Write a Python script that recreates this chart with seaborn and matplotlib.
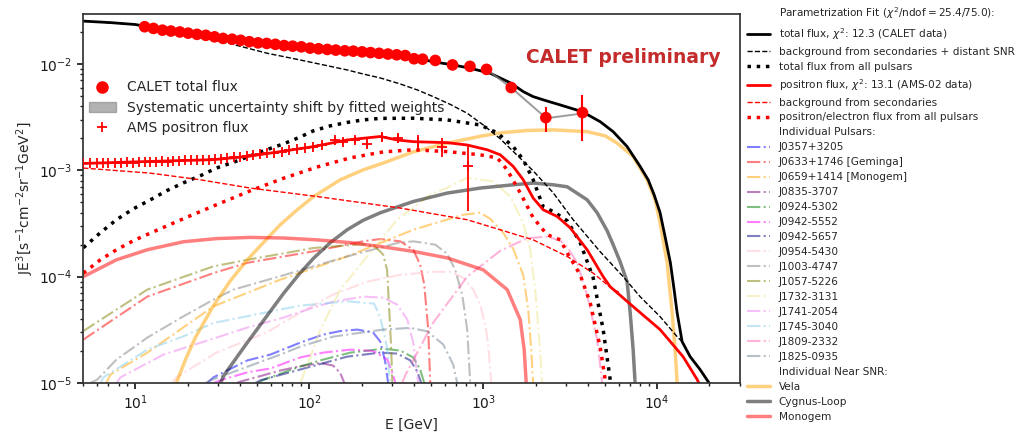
import matplotlib
matplotlib.use("Agg")
import matplotlib.pyplot as plt
from matplotlib.lines import Line2D
from matplotlib.patches import Patch
import seaborn as sns

# ---------------- data ----------------
calet_E = [11.3, 12.7, 14.3, 16.0, 18.0, 20.1, 22.6, 25.4, 28.5, 31.9,
           36.0, 40.3, 45.2, 50.7, 56.9, 63.8, 71.6, 80.2, 90.0, 101,
           113, 127, 142, 160, 179, 201, 225, 252, 283, 318,
           356, 400, 448, 530, 666, 839, 1045, 1449, 2291, 3722]
calet_F = [0.0224, 0.0216, 0.0208, 0.0204, 0.0200, 0.0195, 0.0190, 0.0186, 0.0180, 0.0174,
           0.0171, 0.0167, 0.0162, 0.0158, 0.0156, 0.0153, 0.0149, 0.0147, 0.0145, 0.0141,
           0.0139, 0.0137, 0.0135, 0.0133, 0.0132, 0.0130, 0.0128, 0.0126, 0.0124, 0.0122,
           0.0120, 0.0112, 0.0111, 0.0108, 0.0098, 0.0095, 0.0089, 0.0060, 0.00313, 0.00349]
calet_err = [0.0003, 0.0003, 0.0003, 0.0003, 0.0003, 0.0003, 0.0003, 0.0003, 0.0003, 0.0003,
             0.0003, 0.0003, 0.0003, 0.0003, 0.0003, 0.0003, 0.0003, 0.0003, 0.0003, 0.0003,
             0.0003, 0.0003, 0.0003, 0.0003, 0.0003, 0.0003, 0.0003, 0.0003, 0.0003, 0.0003,
             0.0003, 0.0003, 0.0003, 0.0004, 0.0004, 0.0004, 0.0005, 0.0004, 0.00085, 0.0016]

sys_E = [1045, 1449, 2291, 3722]
sys_lo = [0.0088, 0.0059, 0.00308, 0.00344]
sys_hi = [0.0090, 0.0061, 0.00316, 0.00350]

ams_E = [5.0, 5.5, 6.0, 6.5, 7.0, 7.6, 8.3, 9.0, 9.7, 10.5,
         11.3, 12.2, 13.2, 14.2, 15.3, 16.5, 17.8, 19.2, 20.8, 22.5,
         24.4, 26.4, 28.6, 31.0, 33.7, 36.7, 40.0, 43.7, 47.7, 52.2,
         57.3, 63.0, 69.4, 76.7, 85.0, 94.4, 105, 118, 141, 157,
         184, 215, 263, 325, 423, 581, 820]
ams_F = [1.16e-3, 1.17e-3, 1.16e-3, 1.17e-3, 1.18e-3, 1.17e-3, 1.18e-3, 1.19e-3, 1.18e-3, 1.19e-3,
         1.20e-3, 1.20e-3, 1.21e-3, 1.22e-3, 1.21e-3, 1.23e-3, 1.23e-3, 1.24e-3, 1.24e-3, 1.25e-3,
         1.26e-3, 1.26e-3, 1.28e-3, 1.29e-3, 1.31e-3, 1.32e-3, 1.34e-3, 1.36e-3, 1.40e-3, 1.41e-3,
         1.44e-3, 1.47e-3, 1.50e-3, 1.54e-3, 1.57e-3, 1.61e-3, 1.65e-3, 1.72e-3, 1.93e-3, 1.86e-3,
         1.93e-3, 1.78e-3, 2.07e-3, 2.00e-3, 1.86e-3, 1.67e-3, 1.09e-3]
ams_err = [2e-5, 2e-5, 2e-5, 2e-5, 2e-5, 2e-5, 2e-5, 2e-5, 2e-5, 2e-5,
           2e-5, 2e-5, 2e-5, 2e-5, 2e-5, 2e-5, 2e-5, 2e-5, 2e-5, 2e-5,
           3e-5, 3e-5, 3e-5, 3e-5, 3e-5, 3e-5, 3e-5, 3e-5, 3e-5, 3e-5,
           4e-5, 4e-5, 5e-5, 5e-5, 6e-5, 6e-5, 7e-5, 8e-5, 1.0e-4, 1.0e-4,
           1.2e-4, 1.2e-4, 1.8e-4, 2.0e-4, 2.8e-4, 3.5e-4, 6.8e-4]

total_E = [5.02, 7.18, 10, 13.9, 23.6, 45.8, 88.8, 172, 333, 516, 672, 842, 1097, 1448, 1698,
           1938, 2272, 2772, 3707, 4700, 5586, 6724, 7980, 8880, 9610, 10400, 11110, 11920,
           12520, 13030, 13920, 15480, 17650, 19900, 21540]
total_F = [0.0253, 0.0245, 0.0235, 0.0213, 0.0189, 0.0163, 0.0144, 0.0132, 0.0122, 0.0105,
           0.00979, 0.00912, 0.00818, 0.00659, 0.00550, 0.00493, 0.00454, 0.00412, 0.00356,
           0.00287, 0.00231, 0.00167, 0.00109, 8.15e-4, 5.89e-4, 3.99e-4, 2.38e-4, 1.35e-4,
           7.55e-5, 4.59e-5, 2.45e-5, 1.77e-5, 1.34e-5, 1.0e-5, 8.3e-6]

bg_E = [5.02, 10, 18.1, 30.8, 57.4, 88.8, 165, 204, 256, 333, 418, 516, 646, 809, 1000, 1252,
        1938, 2525, 3290, 4700, 6380, 7980, 10400, 13030, 14100, 15480, 17650, 19900, 21540]
bg_F = [0.0253, 0.0235, 0.0194, 0.0164, 0.0126, 0.0109, 0.00879, 0.00805, 0.00739, 0.00649,
        0.00570, 0.00493, 0.00417, 0.00344, 0.00267, 0.00198, 9.89e-4, 6.15e-4, 3.43e-4,
        1.72e-4, 1.0e-4, 6.49e-5, 4.21e-5, 2.73e-5, 2.40e-5, 1.77e-5, 1.34e-5, 1.0e-5, 8.3e-6]

allpsr_E = [5.02, 6.29, 7.78, 9.74, 12.2, 15.1, 18.9, 23.6, 29.2, 36.6, 45.8, 56.6, 70.9, 88.8,
            105.4, 132, 165, 204, 256, 396, 621, 961, 1204, 1487, 1698, 1938, 2212, 2525,
            3040, 3610, 4287, 4894, 5370, 5510]
allpsr_F = [1.87e-4, 2.59e-4, 3.43e-4, 4.35e-4, 5.28e-4, 6.42e-4, 7.63e-4, 8.88e-4, 1.05e-3,
            1.19e-3, 1.37e-3, 1.56e-3, 1.77e-3, 2.06e-3, 2.35e-3, 2.62e-3, 2.82e-3, 2.98e-3,
            3.08e-3, 3.09e-3, 2.98e-3, 2.67e-3, 2.25e-3, 1.67e-3, 1.26e-3, 8.15e-4, 4.54e-4,
            4.10e-4, 3.36e-4, 2.09e-4, 9.79e-5, 3.18e-5, 1.08e-5, 7.8e-6]

pos_E = [5.02, 11.7, 28.1, 44.0, 68.1, 105.4, 165, 256, 320, 396, 621, 809, 1054, 1252, 1487,
         1698, 1938, 2212, 2663, 3162, 3960, 4894, 5370, 7280, 10400, 14100, 16980, 17650]
pos_F = [1.16e-3, 1.21e-3, 1.26e-3, 1.35e-3, 1.50e-3, 1.67e-3, 1.93e-3, 2.08e-3, 1.93e-3,
         1.86e-3, 1.82e-3, 1.73e-3, 1.56e-3, 1.40e-3, 1.09e-3, 8.15e-4, 5.48e-4, 4.26e-4,
         3.68e-4, 2.88e-4, 1.79e-4, 1.0e-4, 8.05e-5, 5.23e-5, 3.18e-5, 1.77e-5, 1.08e-5, 9.5e-6]

posbg_E = [5.02, 12.2, 23.6, 45.8, 110, 333, 809, 1938, 3040, 4287, 5586, 6130]
posbg_F = [1.05e-3, 9.41e-4, 8.15e-4, 6.81e-4, 5.68e-4, 4.42e-4, 3.43e-4, 2.22e-4, 1.55e-4,
           1.08e-4, 7.55e-5, 7.08e-5]

pospsr_E = [5.02, 6.29, 7.78, 9.74, 12.2, 18.9, 29.2, 45.8, 70.9, 110, 172, 266, 396, 621, 961,
            1204, 1374, 1632, 1938, 2332, 2772, 3040, 3610, 4120, 4700, 5024, 5160]
pospsr_F = [1.08e-4, 1.44e-4, 1.79e-4, 2.18e-4, 2.57e-4, 3.51e-4, 4.74e-4, 6.42e-4, 8.41e-4,
            1.07e-3, 1.31e-3, 1.49e-3, 1.56e-3, 1.50e-3, 1.40e-3, 1.31e-3, 1.01e-3, 6.15e-4,
            3.58e-4, 2.48e-4, 2.22e-4, 1.68e-4, 1.04e-4, 5.70e-5, 2.20e-5, 1.08e-5, 7.8e-6]

# individual pulsars
j0357_E = [25.9, 28.1, 44.0, 59.7, 88.8, 120, 150.7, 189, 233, 256, 273, 284, 288]
j0357_F = [1.0e-5, 1.13e-5, 1.63e-5, 1.85e-5, 2.40e-5, 2.85e-5, 3.08e-5, 3.18e-5, 2.98e-5,
           2.45e-5, 1.59e-5, 1.0e-5, 7.8e-6]
j0633_E = [5.02, 11.7, 28.1, 44.0, 105.4, 204, 256, 333, 396, 434, 458, 483, 496, 502]
j0633_F = [2.56e-5, 6.49e-5, 1.08e-4, 1.35e-4, 1.73e-4, 2.15e-4, 2.26e-4, 2.15e-4, 1.79e-4,
           1.30e-4, 8.41e-5, 3.18e-5, 1.0e-5, 7.8e-6]
j0659_E = [6.81, 7.18, 11.7, 28.1, 68.1, 165, 396, 767, 961, 1097, 1303, 1487, 1698, 1814,
           1888, 1938, 1964]
j0659_F = [1.0e-5, 1.20e-5, 1.93e-5, 5.26e-5, 9.37e-5, 1.55e-4, 2.76e-4, 3.82e-4, 3.99e-4,
           3.50e-4, 2.59e-4, 1.83e-4, 1.04e-4, 4.90e-5, 2.06e-5, 1.0e-5, 7.8e-6]
j0835_E = [38.1, 40.1, 68.1, 88.8, 116, 137, 150.7, 159, 162]
j0835_F = [1.0e-5, 1.03e-5, 1.31e-5, 1.44e-5, 1.54e-5, 1.46e-5, 1.24e-5, 1.0e-5, 7.8e-6]
j0924_E = [50.9, 53.7, 88.8, 120, 172, 266, 333, 396, 434, 458, 464]
j0924_F = [1.0e-5, 1.06e-5, 1.43e-5, 1.66e-5, 1.93e-5, 2.10e-5, 2.02e-5, 1.74e-5, 1.34e-5,
           1.0e-5, 7.8e-6]
j0942a_E = [28.1, 30.8, 44.0, 59.7, 88.8, 120, 172, 233, 281, 304, 312, 316]
j0942a_F = [1.0e-5, 1.06e-5, 1.26e-5, 1.37e-5, 1.74e-5, 1.93e-5, 2.06e-5, 2.00e-5, 1.66e-5,
            1.18e-5, 1.0e-5, 7.8e-6]
j0942b_E = [48.9, 52.3, 88.8, 165, 256, 320, 381, 418, 440, 446]
j0942b_F = [1.0e-5, 1.06e-5, 1.34e-5, 1.77e-5, 1.93e-5, 1.89e-5, 1.63e-5, 1.28e-5, 1.0e-5, 7.8e-6]
j0954_E = [16.3, 17.2, 29.2, 56.6, 88.8, 137, 215, 333, 516, 646, 767, 876, 961, 1027, 1068,
           1112, 1126]
j0954_F = [1.0e-5, 1.13e-5, 1.93e-5, 2.98e-5, 4.59e-5, 6.78e-5, 8.97e-5, 1.04e-4, 1.11e-4,
           1.11e-4, 9.79e-5, 7.55e-5, 5.46e-5, 3.54e-5, 2.30e-5, 1.0e-5, 7.8e-6]
j1003_E = [5.51, 6.05, 7.78, 11.7, 18.9, 28.1, 36.6, 68.1, 165, 320, 396, 530, 621, 690, 757,
           809, 842, 853]
j1003_F = [1.0e-5, 1.08e-5, 1.66e-5, 2.67e-5, 4.24e-5, 6.08e-5, 7.55e-5, 1.01e-4, 1.55e-4,
           2.07e-4, 2.15e-4, 2.00e-4, 1.64e-4, 1.16e-4, 6.78e-5, 3.18e-5, 1.0e-5, 7.8e-6]
j1057_E = [5.02, 11.7, 28.1, 44.0, 105.4, 204, 239, 256, 266, 280, 288, 296, 300, 304]
j1057_F = [3.08e-5, 7.55e-5, 1.25e-4, 1.44e-4, 1.86e-4, 2.02e-4, 1.91e-4, 1.72e-4, 1.61e-4,
           1.16e-4, 4.90e-5, 2.06e-5, 1.0e-5, 7.8e-6]
j1732_E = [88.8, 116, 150.7, 215, 320, 496, 621, 809, 1142, 1430, 1698, 1863, 1990, 2099,
           2183, 2210]
j1732_F = [1.0e-5, 3.18e-5, 7.55e-5, 1.55e-4, 3.43e-4, 5.89e-4, 6.85e-4, 8.51e-4, 7.85e-4,
           5.68e-4, 3.21e-4, 1.79e-4, 7.55e-5, 2.56e-5, 1.0e-5, 7.8e-6]
j1741_E = [7.78, 8.20, 14.5, 29.2, 44.0, 70.9, 105.4, 137, 204, 266, 320, 366, 396, 423, 429]
j1741_F = [1.0e-5, 1.13e-5, 1.85e-5, 2.67e-5, 3.32e-5, 4.12e-5, 5.12e-5, 5.82e-5, 6.49e-5,
           6.35e-5, 5.46e-5, 3.95e-5, 2.40e-5, 1.0e-5, 7.8e-6]
j1745_E = [6.29, 6.55, 11.7, 18.9, 28.1, 68.1, 88.8, 165, 236, 256, 270, 281, 290, 294]
j1745_F = [1.0e-5, 1.13e-5, 2.06e-5, 2.75e-5, 3.67e-5, 4.90e-5, 5.34e-5, 5.86e-5, 5.58e-5,
           4.12e-5, 2.85e-5, 2.06e-5, 1.0e-5, 7.8e-6]
j1809_E = [342, 356, 516, 809, 1252, 1790, 2332, 2772, 3040, 3470, 3960, 4520, 4830, 4890]
j1809_F = [1.0e-5, 1.18e-5, 3.70e-5, 1.0e-4, 1.75e-4, 2.30e-4, 2.38e-4, 2.18e-4, 1.91e-4,
           1.35e-4, 6.64e-5, 2.56e-5, 1.0e-5, 7.8e-6]
j1825_E = [25.3, 27.0, 68.1, 88.8, 137, 266, 381, 477, 589, 672, 709, 718]
j1825_F = [1.0e-5, 1.06e-5, 1.85e-5, 2.20e-5, 2.73e-5, 3.18e-5, 3.30e-5, 3.06e-5, 2.30e-5,
           1.49e-5, 1.0e-5, 7.8e-6]

# near SNRs
vela_E = [17.2, 19.4, 22.1, 28.1, 35.2, 44.0, 54.4, 68.1, 85.3, 105.4, 150.7, 204, 266, 396,
          621, 961, 1252, 1790, 2525, 3960, 5024, 5890, 7280, 8760, 9740, 10400, 11420, 12200,
          12690, 13030, 13200]
vela_F = [1.0e-5, 1.66e-5, 2.67e-5, 5.34e-5, 9.17e-5, 1.44e-4, 2.09e-4, 3.08e-4, 4.26e-4,
          5.64e-4, 8.15e-4, 1.01e-3, 1.17e-3, 1.49e-3, 1.80e-3, 2.09e-3, 2.25e-3, 2.37e-3,
          2.40e-3, 2.31e-3, 2.11e-3, 1.80e-3, 1.35e-3, 8.15e-4, 5.28e-4, 3.21e-4, 1.35e-4,
          4.59e-5, 2.06e-5, 1.0e-5, 7.8e-6]
cygnus_E = [30.8, 32.5, 44.0, 70.9, 88.8, 105.4, 132, 165, 204, 256, 396, 621, 961, 1487, 1938,
            2525, 3040, 3960, 4520, 5160, 5586, 6130, 6720, 7000, 7280, 7470, 7570]
cygnus_F = [1.0e-5, 1.20e-5, 2.40e-5, 6.92e-5, 1.09e-4, 1.48e-4, 2.09e-4, 2.76e-4, 3.39e-4,
            3.99e-4, 5.09e-4, 6.11e-4, 6.81e-4, 7.31e-4, 7.59e-4, 7.31e-4, 7.00e-4, 5.28e-4,
            3.99e-4, 2.70e-4, 2.00e-4, 1.38e-4, 8.97e-5, 4.59e-5, 2.06e-5, 1.0e-5, 7.8e-6]
monogem_E = [5.02, 7.78, 11.7, 18.9, 29.2, 45.8, 70.9, 110, 172, 256, 396, 621, 1000, 1374,
             1632, 1720, 1767, 1790]
monogem_F = [1.0e-4, 1.44e-4, 1.79e-4, 2.13e-4, 2.28e-4, 2.34e-4, 2.31e-4, 2.22e-4, 2.09e-4,
             1.92e-4, 1.73e-4, 1.50e-4, 1.16e-4, 7.55e-5, 3.95e-5, 2.06e-5, 1.0e-5, 7.8e-6]

pulsar_names = ["J0357+3205", "J0633+1746 [Geminga]", "J0659+1414 [Monogem]", "J0835-3707",
                "J0924-5302", "J0942-5552", "J0942-5657", "J0954-5430", "J1003-4747",
                "J1057-5226", "J1732-3131", "J1741-2054", "J1745-3040", "J1809-2332",
                "J1825-0935"]
snr_names = ["Vela", "Cygnus-Loop", "Monogem"]

# ---------------- styles ----------------
pulsar_colors = ["blue", "red", "orange", "purple", "green", "magenta", "navy", "pink",
                 "gray", "olive", "khaki", "violet", "skyblue", "hotpink", "slategray"]
snr_colors = ["orange", "black", "red"]

pulsar_series = [(j0357_E, j0357_F), (j0633_E, j0633_F), (j0659_E, j0659_F),
                 (j0835_E, j0835_F), (j0924_E, j0924_F), (j0942a_E, j0942a_F),
                 (j0942b_E, j0942b_F), (j0954_E, j0954_F), (j1003_E, j1003_F),
                 (j1057_E, j1057_F), (j1732_E, j1732_F), (j1741_E, j1741_F),
                 (j1745_E, j1745_F), (j1809_E, j1809_F), (j1825_E, j1825_F)]
snr_series = [(vela_E, vela_F), (cygnus_E, cygnus_F), (monogem_E, monogem_F)]

sns.set_theme(style="ticks")
plt.rcParams.update({
    "font.family": ["DejaVu Sans"],
    "font.size": 10,
    "axes.labelsize": 10,
    "xtick.labelsize": 10,
    "ytick.labelsize": 10,
    "axes.edgecolor": "0.2",
    "xtick.color": "0.1",
    "ytick.color": "0.1",
    "xtick.major.size": 4,
    "ytick.major.size": 4,
    "xtick.minor.size": 2.5,
    "ytick.minor.size": 2.5,
})

fig = plt.figure(figsize=(10.19, 4.34), dpi=100)
ax = fig.add_axes([0.0815, 0.1175, 0.6448, 0.8502])
ax.set_xscale("log")
ax.set_yscale("log")

PULSAR_LW = 1.5
for (E, F), c in zip(pulsar_series, pulsar_colors):
    sns.lineplot(x=E, y=F, ax=ax, color=c, lw=PULSAR_LW, linestyle="-.", alpha=0.5,
                 estimator=None, sort=False, legend=False)
for (E, F), c in zip(snr_series, snr_colors):
    sns.lineplot(x=E, y=F, ax=ax, color=c, lw=2.5, alpha=0.5,
                 estimator=None, sort=False, legend=False)

main_curves = [
    (total_E, total_F, "black", "-", 2.0),
    (bg_E, bg_F, "black", "--", 1.0),
    (allpsr_E, allpsr_F, "black", ":", 2.5),
    (pos_E, pos_F, "red", "-", 2.0),
    (posbg_E, posbg_F, "red", "--", 1.0),
    (pospsr_E, pospsr_F, "red", ":", 2.5),
]
for E, F, c, ls, lw in main_curves:
    sns.lineplot(x=E, y=F, ax=ax, color=c, linestyle=ls, lw=lw,
                 estimator=None, sort=False, legend=False)

ax.fill_between(sys_E, sys_lo, sys_hi, color="gray", alpha=0.6, lw=0.8, zorder=4)

ax.errorbar(ams_E, ams_F, yerr=ams_err, fmt="none", ecolor="red", elinewidth=1.3, zorder=5)
sns.scatterplot(x=ams_E, y=ams_F, ax=ax, marker="+", color="red", s=55, linewidth=1.3,
                zorder=6, legend=False)
ax.errorbar(calet_E, calet_F, yerr=calet_err, fmt="none", ecolor="red", elinewidth=1.5, zorder=6)
sns.scatterplot(x=calet_E, y=calet_F, ax=ax, marker="o", color="red", s=70, edgecolor="none",
                zorder=7, legend=False)

ax.set_xlim(5.0, 3.0e4)
ax.set_ylim(1e-5, 2.95e-2)
ax.set_xlabel("E [GeV]")
ax.set_ylabel(r"JE$^3$[s$^{-1}$cm$^{-2}$sr$^{-1}$GeV$^2$]", labelpad=2)

ax.text(0.823, 0.881, "CALET preliminary", transform=ax.transAxes, ha="center", va="center",
        fontsize=13.5, fontweight="bold", color="#c42b2b")

# left legend (data)
h_left = [
    Line2D([], [], marker="o", color="red", linestyle="none", markersize=8),
    Patch(facecolor="gray", edgecolor="gray", alpha=0.6),
    Line2D([], [], marker="+", color="red", linestyle="none", markersize=7, mew=1.3),
]
l_left = ["CALET total flux", "Systematic uncertainty shift by fitted weights", "AMS positron flux"]
leg1 = ax.legend(h_left, l_left, loc="upper left", bbox_to_anchor=(0.0, 0.835), frameon=False,
                 fontsize=10, borderaxespad=0, labelspacing=0.45, handletextpad=0.8)
ax.add_artist(leg1)

# right legend (fit components)
blank = Line2D([], [], linestyle="none")
h_right = [blank,
           Line2D([], [], color="black", lw=2.0),
           Line2D([], [], color="black", lw=1.0, linestyle="--"),
           Line2D([], [], color="black", lw=2.5, linestyle=":"),
           Line2D([], [], color="red", lw=2.0),
           Line2D([], [], color="red", lw=1.0, linestyle="--"),
           Line2D([], [], color="red", lw=2.5, linestyle=":"),
           blank]
l_right = [r"Parametrization Fit ($\chi^2$/ndof$=$25.4/75.0):",
           r"total flux, $\chi^2$: 12.3 (CALET data)",
           "background from secondaries + distant SNR",
           "total flux from all pulsars",
           r"positron flux, $\chi^2$: 13.1 (AMS-02 data)",
           "background from secondaries",
           "positron/electron flux from all pulsars",
           "Individual Pulsars:"]
for name, c in zip(pulsar_names, pulsar_colors):
    h_right.append(Line2D([], [], color=c, lw=PULSAR_LW, linestyle="-.", alpha=0.5))
    l_right.append(name)
h_right.append(blank)
l_right.append("Individual Near SNR:")
for name, c in zip(snr_names, snr_colors):
    h_right.append(Line2D([], [], color=c, lw=2.5, alpha=0.5))
    l_right.append(name)

ax.legend(h_right, l_right, loc="upper left", bbox_to_anchor=(1.004, 1.035), frameon=False,
          fontsize=7.6, borderaxespad=0, labelspacing=0.47, handlelength=2.2, handletextpad=0.8)

fig.savefig("out.png", dpi=100)
